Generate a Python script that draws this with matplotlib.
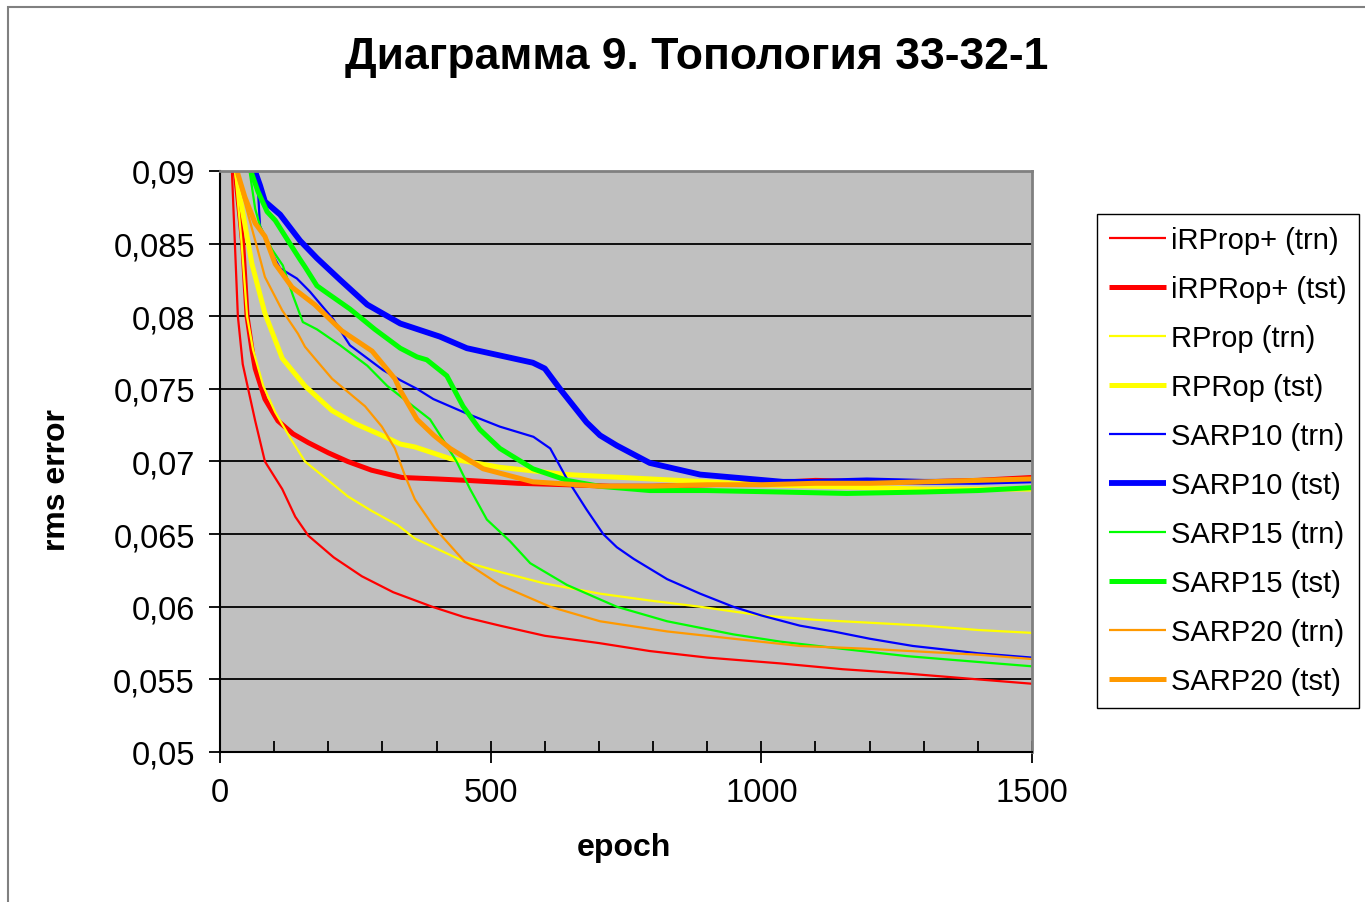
import matplotlib
matplotlib.use('Agg')
import matplotlib.pyplot as plt
from matplotlib.ticker import MultipleLocator, FuncFormatter
from matplotlib.patches import Rectangle

# ---------------- data ----------------
irprop_trn_x = [18, 22, 33, 42, 52, 65, 83, 115, 139, 163, 210, 262, 320, 392, 450, 517, 600, 700, 794, 900, 1035, 1150, 1269, 1400, 1500]
irprop_trn_y = [0.0950, 0.0900, 0.0800, 0.0767, 0.0750, 0.0728, 0.0700, 0.0681, 0.0662, 0.0649, 0.0634, 0.0621, 0.0610, 0.0600, 0.0593, 0.0587, 0.0580, 0.0575, 0.05695, 0.0565, 0.0561, 0.0557, 0.0554, 0.0550, 0.0547]

irprop_tst_x = [24, 28, 42, 50, 59, 65, 83, 107, 135, 163, 200, 236, 280, 336, 400, 456, 550, 641, 720, 800, 900, 1000, 1100, 1200, 1300, 1400, 1500]
irprop_tst_y = [0.0950, 0.0900, 0.0850, 0.0800, 0.0777, 0.0764, 0.0743, 0.0728, 0.0719, 0.0713, 0.0706, 0.0700, 0.0694, 0.0689, 0.0688, 0.0687, 0.0685, 0.0684, 0.0683, 0.0683, 0.0684, 0.0685, 0.0687, 0.0686, 0.0686, 0.0687, 0.0689]

rprop_trn_x = [24, 28, 40, 50, 61, 80, 102, 130, 157, 200, 236, 280, 329, 360, 400, 452, 517, 600, 702, 800, 887, 1000, 1100, 1200, 1300, 1400, 1500]
rprop_trn_y = [0.0950, 0.0900, 0.0850, 0.0800, 0.0777, 0.0752, 0.0734, 0.0716, 0.0700, 0.0687, 0.0676, 0.0666, 0.0656, 0.0647, 0.0640, 0.0631, 0.0624, 0.0616, 0.0609, 0.0604, 0.0600, 0.0594, 0.0591, 0.0589, 0.0587, 0.0584, 0.0582]

rprop_tst_x = [25, 30, 37, 59, 83, 115, 157, 207, 250, 299, 333, 360, 425, 517, 641, 794, 900, 1000, 1100, 1200, 1300, 1400, 1500]
rprop_tst_y = [0.0930, 0.0900, 0.0882, 0.0836, 0.0802, 0.0771, 0.0752, 0.0735, 0.0726, 0.0718, 0.0712, 0.0710, 0.0702, 0.0696, 0.0691, 0.0688, 0.0686, 0.0684, 0.0683, 0.0682, 0.0681, 0.0681, 0.0681]

sarp10_trn_x = [64, 68, 74, 92, 111, 142, 166, 209, 240, 301, 333, 364, 394, 456, 517, 579, 610, 641, 677, 708, 733, 764, 826, 887, 948, 1000, 1071, 1133, 1200, 1280, 1400, 1500]
sarp10_trn_y = [0.0930, 0.0900, 0.0862, 0.0846, 0.0833, 0.0826, 0.0817, 0.0798, 0.0780, 0.0763, 0.0756, 0.0750, 0.0743, 0.0733, 0.0724, 0.0717, 0.0709, 0.0688, 0.0667, 0.0650, 0.0641, 0.0633, 0.0619, 0.0609, 0.0600, 0.0594, 0.0587, 0.0583, 0.0578, 0.0573, 0.0568, 0.0565]

sarp10_tst_x = [50, 55, 74, 83, 111, 148, 179, 222, 272, 333, 406, 456, 517, 578, 600, 628, 677, 702, 733, 794, 887, 979, 1040, 1100, 1195, 1300, 1400, 1500]
sarp10_tst_y = [0.0930, 0.0910, 0.0890, 0.0879, 0.0870, 0.0852, 0.0840, 0.0825, 0.0808, 0.0795, 0.0786, 0.0778, 0.0773, 0.0768, 0.0764, 0.0750, 0.0727, 0.0718, 0.0711, 0.0699, 0.0691, 0.0688, 0.0686, 0.0686, 0.0687, 0.0686, 0.0686, 0.0687]

sarp15_trn_x = [50, 55, 65, 74, 96, 116, 135, 153, 179, 222, 272, 309, 357, 388, 412, 437, 462, 493, 536, 573, 641, 733, 826, 948, 1035, 1150, 1269, 1400, 1500]
sarp15_trn_y = [0.0930, 0.0899, 0.0874, 0.0862, 0.0846, 0.0835, 0.0814, 0.0796, 0.0791, 0.0780, 0.0766, 0.0752, 0.0738, 0.0729, 0.0715, 0.0700, 0.0681, 0.0660, 0.0645, 0.0630, 0.0615, 0.0600, 0.0590, 0.0581, 0.0576, 0.0571, 0.0566, 0.0562, 0.0559]

sarp15_tst_x = [52, 57, 70, 87, 102, 124, 148, 157, 179, 194, 240, 286, 333, 364, 382, 419, 449, 480, 517, 578, 641, 700, 794, 900, 1035, 1158, 1300, 1400, 1500]
sarp15_tst_y = [0.0930, 0.0900, 0.0886, 0.0872, 0.0866, 0.0853, 0.0839, 0.0834, 0.0821, 0.0817, 0.0805, 0.0791, 0.0778, 0.0772, 0.0770, 0.0759, 0.0738, 0.0722, 0.0709, 0.0695, 0.0687, 0.0683, 0.0680, 0.0680, 0.0679, 0.0678, 0.0679, 0.0680, 0.0682]

sarp20_trn_x = [26, 30, 52, 68, 83, 115, 144, 157, 175, 207, 268, 299, 323, 342, 360, 397, 452, 517, 610, 702, 826, 948, 1071, 1200, 1300, 1400, 1500]
sarp20_trn_y = [0.0930, 0.0900, 0.0870, 0.0848, 0.0827, 0.0804, 0.0788, 0.0779, 0.0771, 0.0757, 0.0738, 0.0724, 0.0709, 0.0690, 0.0674, 0.0654, 0.0631, 0.0615, 0.0600, 0.0590, 0.0583, 0.0578, 0.0573, 0.0571, 0.0569, 0.0567, 0.0564]

sarp20_tst_x = [28, 33, 46, 65, 83, 102, 133, 175, 225, 281, 323, 333, 364, 395, 425, 486, 578, 702, 794, 900, 1000, 1100, 1200, 1300, 1400, 1500]
sarp20_tst_y = [0.0930, 0.0898, 0.0882, 0.0864, 0.0855, 0.0836, 0.0820, 0.0808, 0.0790, 0.0776, 0.0757, 0.0749, 0.0729, 0.0718, 0.0709, 0.0695, 0.0686, 0.0683, 0.0683, 0.0684, 0.0684, 0.0685, 0.0685, 0.0686, 0.0687, 0.0688]

labels = ["iRProp+ (trn)", "iRPRop+ (tst)", "RProp (trn)", "RPRop (tst)",
          "SARP10 (trn)", "SARP10 (tst)", "SARP15 (trn)", "SARP15 (tst)",
          "SARP20 (trn)", "SARP20 (tst)"]
colors = ["#FF0000", "#FF0000", "#FFFF00", "#FFFF00", "#0000FF", "#0000FF",
          "#00FF00", "#00FF00", "#FF9900", "#FF9900"]
widths = [1.6, 3.6, 1.6, 3.6, 1.6, 4.2, 1.6, 3.6, 1.6, 3.6]

title = "Диаграмма 9. Топология 33-32-1"
xlabel = "epoch"
ylabel = "rms error"
yticks = [0.05, 0.055, 0.06, 0.065, 0.07, 0.075, 0.08, 0.085, 0.09]
xticks = [0, 500, 1000, 1500]

xs = [irprop_trn_x, irprop_tst_x, rprop_trn_x, rprop_tst_x, sarp10_trn_x,
      sarp10_tst_x, sarp15_trn_x, sarp15_tst_x, sarp20_trn_x, sarp20_tst_x]
ys = [irprop_trn_y, irprop_tst_y, rprop_trn_y, rprop_tst_y, sarp10_trn_y,
      sarp10_tst_y, sarp15_trn_y, sarp15_tst_y, sarp20_trn_y, sarp20_tst_y]

# ---------------- drawing ----------------
plt.rcParams['font.family'] = ['Liberation Sans', 'DejaVu Sans']

W, H = 1365, 903
fig = plt.figure(figsize=(W / 100, H / 100), dpi=100)
fig.patches.append(Rectangle((8 / W, -0.05), 1.2, 1 - 8 / H + 0.05,
                             transform=fig.transFigure, fill=False,
                             edgecolor='#808080', linewidth=1.5))

ax = fig.add_axes([220 / W, 150 / H, 812 / W, 581 / H])
ax.set_facecolor('#C0C0C0')

for x, y, c, lw, lab in zip(xs, ys, colors, widths, labels):
    ax.plot(x, y, color=c, linewidth=lw, label=lab,
            solid_joinstyle='round', solid_capstyle='butt')

ax.set_xlim(0, 1500)
ax.set_ylim(0.05, 0.09)
ax.set_yticks(yticks)
ax.set_xticks(xticks)
ax.xaxis.set_minor_locator(MultipleLocator(100))
ax.yaxis.set_major_formatter(FuncFormatter(lambda v, p: f"{v:.3f}".rstrip('0').replace('.', ',')))
ax.grid(axis='y', color='black', linewidth=1.3)
ax.set_axisbelow(True)

ax.tick_params(axis='x', which='major', direction='inout', length=16, width=1.3,
               labelsize=23.5, pad=10)
ax.tick_params(axis='x', which='minor', direction='in', length=8, width=1.3)
ax.tick_params(axis='y', which='major', direction='out', length=8, width=1.3,
               labelsize=23.5, pad=10)

for s in ['top', 'right']:
    ax.spines[s].set_color('#808080')
    ax.spines[s].set_linewidth(2)
for s in ['left', 'bottom']:
    ax.spines[s].set_color('black')
    ax.spines[s].set_linewidth(1.5)

fig.text(697 / W, 1 - 58 / H, title, fontsize=32, fontweight='bold',
         ha='center', va='center')
fig.text(624 / W, 1 - 848 / H, xlabel, fontsize=23, fontweight='bold',
         ha='center', va='center')
fig.text(57 / W, 1 - 480 / H, ylabel, fontsize=23, fontweight='bold',
         ha='center', va='center', rotation=90)

leg = fig.legend(loc='upper left', bbox_to_anchor=(1097 / W, 1 - 215 / H),
                 bbox_transform=fig.transFigure, fontsize=21, frameon=True,
                 fancybox=False, edgecolor='black', framealpha=1,
                 borderaxespad=0, borderpad=0.42, handlelength=1.95,
                 handletextpad=0.18, labelspacing=0.72)
leg.get_frame().set_linewidth(1.0)

fig.savefig('out.png', dpi=100)
